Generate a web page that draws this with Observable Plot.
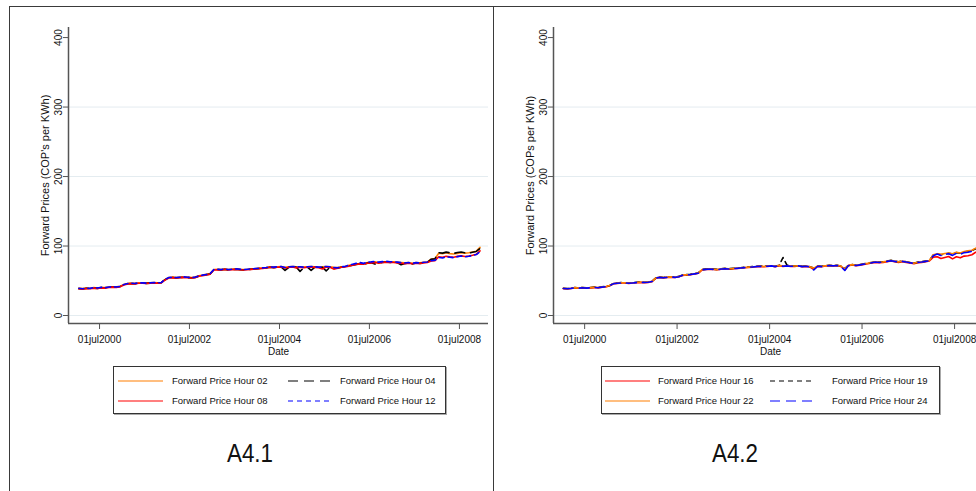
<!DOCTYPE html>
<html>
<head>
<meta charset="utf-8">
<script src="https://cdn.jsdelivr.net/npm/d3@7"></script>
<script src="https://cdn.jsdelivr.net/npm/@observablehq/plot@0.6"></script>
<style>
  body { margin: 0; background: #fff; font-family: "Liberation Sans", Arial, sans-serif; }
  #page { position: relative; width: 976px; height: 491px; overflow: hidden; background: #fff; }
  .rule { position: absolute; background: #3a3a3a; }
  .panel { position: absolute; top: 0; height: 360px; overflow: hidden; }
  .panel svg { max-width: none !important; }
  .legend { position: absolute; border: 1px solid #333; background: #fff; box-shadow: 1px 1px 0 #aaa; }
  .legend .item { position: absolute; font-size: 9.5px; color: #111; white-space: nowrap; line-height: 12px; }
  .legend svg { position: absolute; overflow: visible; }
  .title { position: absolute; font-family: "Liberation Sans Narrow", "Liberation Sans", Arial, sans-serif;
           font-size: 26px; color: #111; transform: translateX(-50%) scaleX(0.86); white-space: nowrap; }
</style>
</head>
<body>
<div id="page"></div>
<script>
// Monthly forward prices (COP per kWh), Jan 2000 – Dec 2008, one row per year.
const months = d3.utcMonth.range(new Date(Date.UTC(2000, 0, 1)), new Date(Date.UTC(2009, 0, 1)))
  .map(d => d3.utcDay.offset(d, 14));

const hour02 = [
  39.5, 38.8, 39.6, 39.2, 40.3, 39.7, 40.2, 40.1, 41.2, 41.3, 41.2, 42.1,
  44.8, 46.2, 46.3, 46.4, 47.1, 46.8, 46.9, 47.2, 47.3, 47.2, 47.6, 51.8,
  54.6, 55.2, 54.7, 55.1, 55.3, 55.2, 54.8, 55.3, 57.2, 58.1, 59.2, 60.3,
  66.2, 66.4, 66.3, 66.8, 66.2, 66.7, 66.9, 66.4, 66.3, 66.6, 67.1, 67.4,
  68.3, 68.6, 69.2, 70.1, 69.6, 70.2, 70.4, 69.3, 70.1, 70.6, 70.2, 70.1,
  69.7, 70.2, 70.3, 70.1, 69.8, 70.2, 70.4, 70.1, 69.4, 68.9, 70.1, 70.6,
  72.2, 73.1, 74.2, 74.8, 74.6, 76.1, 76.3, 77.2, 76.1, 77.2, 77.3, 77.2,
  77.3, 76.7, 76.2, 75.7, 76.1, 75.3, 76.2, 75.8, 76.6, 77.2, 81.3, 81.9,
  89.5, 88.8, 90.2, 89.1, 88.6, 89.4, 90.3, 89.7, 90.4, 91.3, 92.6, 98.0
];
const hour04 = [
  38.6, 38.2, 39.1, 38.7, 39.6, 39.1, 40.1, 39.6, 40.7, 41.0, 40.6, 41.7,
  44.1, 45.6, 46.1, 45.7, 46.6, 46.7, 46.2, 46.6, 47.1, 46.8, 47.2, 51.5,
  54.1, 54.7, 54.2, 54.6, 55.1, 54.7, 54.1, 54.7, 56.6, 57.6, 58.7, 59.6,
  65.6, 66.1, 65.7, 66.5, 65.4, 66.1, 66.6, 66.1, 65.5, 66.1, 66.6, 67.1,
  67.4, 68.1, 68.4, 69.4, 68.7, 69.5, 70.0, 64.8, 69.3, 70.0, 69.5, 63.5,
  69.0, 69.4, 65.0, 69.5, 68.8, 69.4, 64.2, 69.4, 68.5, 67.9, 69.4, 70.0,
  71.5, 72.3, 73.6, 74.2, 73.8, 75.4, 75.9, 74.0, 75.4, 76.5, 77.0, 76.4,
  76.5, 75.9, 73.0, 74.9, 75.4, 74.2, 75.5, 74.8, 76.0, 76.4, 81.0, 81.5,
  90.5, 89.8, 91.2, 90.3, 89.4, 90.6, 91.5, 90.2, 89.8, 91.0, 92.2, 96.5
];
const hour08 = [
  38.4, 37.9, 38.8, 38.5, 39.4, 38.9, 39.8, 39.4, 40.4, 40.9, 40.4, 41.4,
  43.9, 45.5, 45.9, 45.5, 46.4, 46.5, 46.0, 46.5, 46.9, 46.5, 46.9, 51.2,
  53.9, 54.5, 54.0, 54.5, 54.9, 54.5, 54.0, 54.5, 56.5, 57.4, 58.5, 59.5,
  65.5, 65.9, 65.5, 66.4, 65.5, 66.0, 66.4, 65.9, 65.5, 65.9, 66.4, 66.9,
  67.5, 67.9, 68.4, 69.4, 68.9, 69.4, 69.9, 68.4, 69.4, 69.9, 68.5, 69.4,
  68.9, 69.4, 69.9, 69.3, 68.9, 67.0, 69.9, 69.4, 66.8, 67.9, 69.4, 69.9,
  71.0, 72.2, 73.4, 74.3, 73.9, 75.2, 75.8, 76.3, 75.3, 76.2, 76.8, 76.3,
  76.2, 75.8, 75.2, 74.6, 75.3, 74.4, 75.2, 74.8, 75.8, 76.2, 78.5, 79.0,
  84.5, 83.8, 85.2, 84.4, 83.9, 85.1, 85.8, 84.9, 85.5, 86.7, 88.1, 93.0
];
const hour12 = [
  39.2, 38.6, 39.4, 39.1, 40.1, 39.6, 40.6, 40.0, 41.0, 41.4, 41.0, 42.0,
  44.6, 46.0, 46.4, 46.1, 47.0, 46.9, 46.6, 47.0, 47.4, 47.1, 47.4, 52.2,
  54.6, 55.1, 54.6, 55.1, 55.6, 55.1, 54.6, 55.1, 57.1, 58.1, 59.1, 60.1,
  66.1, 66.6, 66.1, 67.1, 66.1, 66.6, 67.1, 66.6, 66.1, 66.6, 67.1, 67.6,
  68.1, 68.6, 69.1, 70.1, 69.6, 70.1, 70.6, 69.1, 70.1, 70.6, 70.1, 70.1,
  69.6, 70.1, 70.6, 70.1, 69.6, 70.1, 70.6, 70.1, 69.1, 68.6, 70.1, 70.6,
  72.5, 73.8, 75.0, 76.2, 75.0, 77.0, 77.2, 77.8, 76.8, 77.5, 78.0, 77.4,
  77.2, 76.8, 76.1, 75.6, 76.2, 75.1, 76.1, 75.6, 76.6, 77.1, 79.0, 79.5,
  83.5, 82.8, 84.6, 83.9, 83.2, 84.8, 85.6, 84.5, 85.2, 86.5, 87.8, 92.0
];
const hour16 = [
  38.7, 38.2, 38.8, 39.7, 39.2, 39.7, 39.2, 39.8, 40.2, 39.8, 40.7, 41.2,
  42.8, 45.7, 46.2, 46.7, 46.8, 46.2, 46.7, 47.2, 47.7, 47.2, 47.7, 48.8,
  53.8, 54.7, 54.2, 54.8, 55.2, 54.8, 55.7, 57.7, 58.2, 58.8, 59.7, 60.7,
  65.7, 66.2, 66.7, 66.2, 65.8, 66.7, 67.2, 66.8, 67.2, 67.7, 68.2, 68.7,
  69.2, 69.7, 70.2, 70.7, 70.2, 70.7, 71.2, 70.2, 71.7, 70.7, 71.2, 70.7,
  70.7, 71.2, 70.2, 70.7, 69.7, 66.5, 70.7, 70.2, 71.2, 71.7, 71.2, 71.7,
  70.5, 65.5, 71.5, 72.6, 71.6, 72.5, 73.6, 74.5, 75.5, 76.5, 76.0, 76.5,
  77.5, 78.5, 77.5, 76.5, 77.5, 76.5, 75.5, 74.5, 76.0, 76.5, 77.5, 78.5,
  84.0, 84.5, 82.0, 83.5, 85.0, 81.5, 84.5, 83.0, 85.5, 86.0, 87.5, 91.0
];
const hour19 = [
  39.3, 38.8, 39.3, 40.3, 39.8, 40.3, 39.8, 40.4, 40.8, 40.3, 41.3, 41.8,
  43.3, 46.3, 46.8, 47.4, 47.3, 46.8, 47.3, 47.8, 48.4, 47.8, 48.3, 49.3,
  54.3, 55.3, 54.8, 55.4, 55.8, 55.3, 56.3, 58.3, 58.8, 59.3, 60.3, 61.3,
  66.3, 66.8, 67.3, 66.8, 66.3, 67.3, 67.8, 67.3, 67.8, 68.3, 68.8, 69.3,
  69.8, 70.3, 70.8, 71.3, 70.8, 71.3, 71.8, 70.8, 72.3, 83.5, 72.5, 71.3,
  71.3, 71.8, 70.8, 71.3, 70.3, 68.3, 71.3, 70.8, 71.8, 72.3, 71.8, 72.3,
  71.3, 67.5, 72.3, 73.3, 72.3, 73.3, 74.3, 75.3, 76.3, 77.3, 76.8, 77.3,
  78.3, 79.3, 78.3, 77.3, 78.3, 77.3, 76.3, 75.3, 76.8, 77.3, 78.3, 79.3,
  87.0, 88.5, 87.5, 88.5, 89.5, 88.5, 90.5, 89.5, 91.5, 92.5, 93.5, 96.0
];
const hour22 = [
  39.2, 38.6, 39.2, 40.1, 39.6, 40.2, 39.6, 40.2, 40.6, 40.2, 41.1, 41.6,
  43.2, 46.1, 46.6, 47.2, 47.1, 46.6, 47.2, 47.6, 48.2, 47.6, 48.1, 49.1,
  54.1, 55.2, 54.6, 55.2, 55.6, 55.1, 56.2, 58.1, 58.6, 59.1, 60.2, 61.1,
  66.2, 66.6, 67.2, 66.6, 66.1, 67.1, 67.6, 67.2, 67.6, 68.2, 68.6, 69.2,
  69.6, 70.2, 70.6, 71.2, 70.6, 71.2, 71.6, 70.6, 72.2, 71.2, 71.6, 71.2,
  71.2, 71.6, 70.6, 71.2, 70.2, 68.2, 71.2, 70.6, 71.6, 72.2, 71.6, 72.2,
  71.2, 67.2, 72.2, 73.2, 72.2, 73.2, 74.2, 75.2, 76.2, 77.2, 76.6, 77.2,
  78.2, 79.2, 78.2, 77.2, 78.2, 77.2, 76.2, 75.2, 76.6, 77.2, 78.2, 79.2,
  87.5, 89.0, 88.0, 89.2, 90.0, 89.0, 91.0, 90.0, 92.0, 93.0, 94.0, 97.0
];
const hour24 = [
  38.9, 38.4, 39.0, 39.9, 39.4, 39.9, 39.4, 40.0, 40.4, 40.0, 40.9, 41.4,
  43.0, 45.9, 46.4, 46.9, 46.9, 46.4, 46.9, 47.4, 47.9, 47.4, 47.9, 48.9,
  53.9, 54.9, 54.4, 54.9, 55.4, 54.9, 55.9, 57.9, 58.4, 58.9, 59.9, 60.9,
  65.9, 66.4, 66.9, 66.4, 65.9, 66.9, 67.4, 66.9, 67.4, 67.9, 68.4, 68.9,
  69.4, 69.9, 70.4, 70.9, 70.4, 70.9, 71.4, 70.4, 71.9, 70.9, 71.4, 70.9,
  70.9, 71.4, 70.4, 70.9, 69.9, 65.5, 70.9, 70.4, 71.4, 71.9, 71.4, 71.9,
  70.9, 64.8, 71.9, 72.9, 71.9, 72.9, 73.9, 74.9, 75.9, 76.9, 76.4, 76.9,
  77.9, 78.9, 77.9, 76.9, 77.9, 76.9, 75.9, 74.9, 76.4, 76.9, 77.9, 78.9,
  86.0, 88.5, 86.5, 88.0, 89.0, 86.5, 89.5, 88.0, 90.5, 91.0, 92.5, 95.0
];

const yTicks = [0, 100, 200, 300, 400];
const xTicks = ["2000-07-01", "2002-07-01", "2004-07-01", "2006-07-01", "2008-07-01"].map(s => new Date(s));
const fmtDate = d => d3.utcFormat("%d")(d) + d3.utcFormat("%b")(d).toLowerCase() + d3.utcFormat("%Y")(d);

const orange = "#ff7f00", red = "#ff0000", black = "#000000", blue = "#0000ff";
const longDash = "10,6", shortDash = "5,4";

// series per panel: label, values, colour, dash pattern (legend order: row by row)
const panelA = [
  {label: "Forward Price Hour 02", values: hour02, color: orange, dash: null},
  {label: "Forward Price Hour 04", values: hour04, color: black, dash: longDash},
  {label: "Forward Price Hour 08", values: hour08, color: red, dash: null},
  {label: "Forward Price Hour 12", values: hour12, color: blue, dash: shortDash}
];
const panelB = [
  {label: "Forward Price Hour 16", values: hour16, color: red, dash: null},
  {label: "Forward Price Hour 19", values: hour19, color: black, dash: shortDash},
  {label: "Forward Price Hour 22", values: hour22, color: orange, dash: null},
  {label: "Forward Price Hour 24", values: hour24, color: blue, dash: longDash}
];

const page = document.getElementById("page");
const yDomain = [-11.5, 414.5];

function drawPanel({series, xDomain, left, boxWidth, svgWidth, marginLeft, marginRight, yTitle}) {
  const lines = series.map(s => Plot.lineY(
    months.map((d, i) => ({date: d, value: s.values[i]})),
    {x: "date", y: "value", stroke: s.color, strokeWidth: 1.6, strokeDasharray: s.dash ?? undefined}
  ));
  const chart = Plot.plot({
    width: svgWidth,
    height: 360,
    marginLeft, marginRight, marginTop: 27, marginBottom: 37,
    style: {fontFamily: "'Liberation Sans', Arial, sans-serif", fontSize: "10px", color: "#111",
            background: "transparent", maxWidth: "none"},
    x: {type: "utc", domain: xDomain, label: null},
    y: {domain: yDomain, label: null},
    marks: [
      Plot.gridY(yTicks.slice(0, 4), {stroke: "#e4ecf0", strokeOpacity: 1}),
      ...lines,
      Plot.ruleX([xDomain[0]], {stroke: "#555", strokeWidth: 1.5}),
      Plot.ruleY([yDomain[0]], {stroke: "#555", strokeWidth: 1.5}),
      Plot.axisY(yTicks, {tickSize: 5, tickFormat: () => "", stroke: "#555", label: null}),
      Plot.text(yTicks, {y: d => d, text: d => String(d), frameAnchor: "left", dx: -10, rotate: -90,
        textAnchor: "middle", lineAnchor: "middle"}),
      Plot.text([yTitle], {frameAnchor: "left", dx: -23, rotate: -90, fontSize: 11,
        textAnchor: "middle", lineAnchor: "middle"}),
      Plot.axisX(xTicks, {tickSize: 6, tickPadding: 6, tickFormat: fmtDate, stroke: "#555", label: null}),
      Plot.text(["Date"], {frameAnchor: "bottom", dy: 28, lineAnchor: "middle", textAnchor: "middle"})
    ]
  });
  const div = document.createElement("div");
  div.className = "panel";
  div.style.left = left + "px";
  div.style.width = boxWidth + "px";
  div.appendChild(chart);
  page.appendChild(div);
}

function drawLegend({series, left, top, width, height, cols}) {
  const box = document.createElement("div");
  box.className = "legend";
  Object.assign(box.style, {left: left + "px", top: top + "px", width: width + "px", height: height + "px"});
  series.forEach((s, i) => {
    const c = cols[i % 2];
    const cy = i < 2 ? 14 : 34;
    const svg = d3.create("svg").attr("width", c.lineEnd - c.lineStart).attr("height", 4)
      .style("left", c.lineStart + "px").style("top", (cy - 2) + "px");
    svg.append("line").attr("x1", 0).attr("x2", c.lineEnd - c.lineStart).attr("y1", 2).attr("y2", 2)
      .attr("stroke", s.color).attr("stroke-width", 1.2).attr("stroke-dasharray", s.dash);
    box.appendChild(svg.node());
    const t = document.createElement("div");
    t.className = "item";
    t.textContent = s.label;
    t.style.left = c.text + "px";
    t.style.top = (cy - 6) + "px";
    box.appendChild(t);
  });
  page.appendChild(box);
}

function addTitle(text, cx) {
  const t = document.createElement("div");
  t.className = "title";
  t.textContent = text;
  t.style.left = cx + "px";
  t.style.top = "438px";
  page.appendChild(t);
}

drawPanel({series: panelA, xDomain: [new Date("1999-10-23"), new Date("2009-02-22")],
  left: 0, boxWidth: 493, svgWidth: 493, marginLeft: 68, marginRight: 5,
  yTitle: "Forward Prices (COP's per KWh)"});
drawPanel({series: panelB, xDomain: [new Date("1999-10-29"), new Date("2009-03-18")],
  left: 493, boxWidth: 483, svgWidth: 500, marginLeft: 60, marginRight: 6,
  yTitle: "Forward Prices (COPs per KWh)"});

drawLegend({series: panelA, left: 113, top: 366, width: 331, height: 46,
  cols: [{lineStart: 4, lineEnd: 49, text: 58}, {lineStart: 174, lineEnd: 219, text: 226}]});
drawLegend({series: panelB, left: 601, top: 366, width: 337, height: 46,
  cols: [{lineStart: 3, lineEnd: 48, text: 56}, {lineStart: 168, lineEnd: 213, text: 230}]});

addTitle("A4.1", 250);
addTitle("A4.2", 735);

// panel frame: top edge, left edge and divider
[[9, 6, 967, 1], [9, 6, 1, 485], [493, 6, 1, 485]].forEach(([x, y, w, h]) => {
  const r = document.createElement("div");
  r.className = "rule";
  Object.assign(r.style, {left: x + "px", top: y + "px", width: w + "px", height: h + "px"});
  page.appendChild(r);
});
</script>
</body>
</html>
